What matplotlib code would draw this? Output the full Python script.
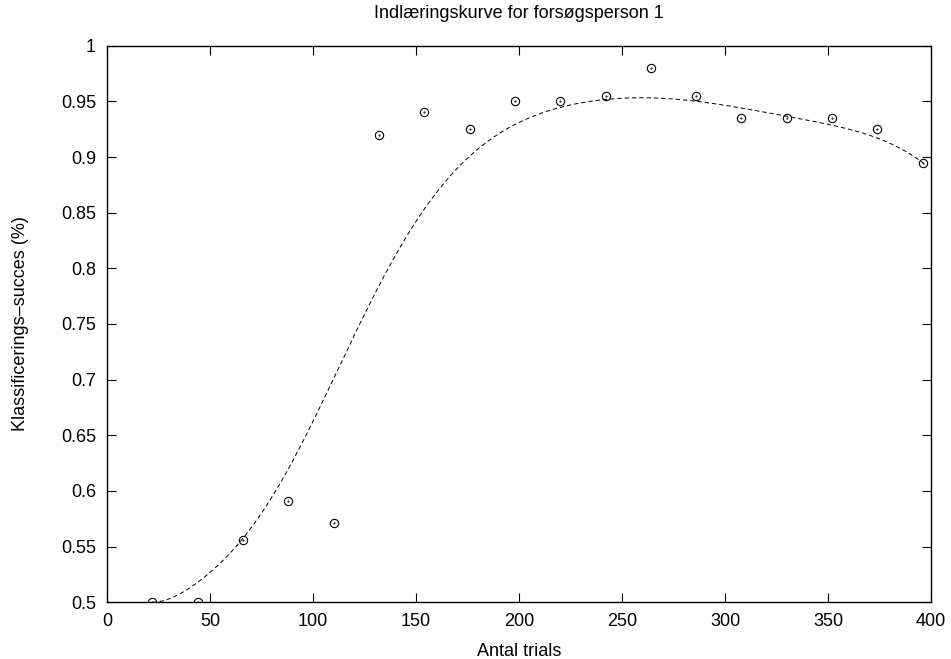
import numpy as np
import matplotlib
matplotlib.use('Agg')
import matplotlib.pyplot as plt
from matplotlib.bezier import BezierSegment

# Antal trials og klassificerings-succes for forsøgsperson 1
trials = [22, 44, 66, 88, 110, 132, 154, 176, 198, 220, 242, 264, 286, 308, 330, 352, 374, 396]
succes = [0.500, 0.500, 0.556, 0.591, 0.571, 0.920, 0.940, 0.925, 0.950, 0.950,
          0.955, 0.980, 0.955, 0.935, 0.935, 0.935, 0.925, 0.895]

xticks = [0, 50, 100, 150, 200, 250, 300, 350, 400]
yticks = [0.5, 0.55, 0.6, 0.65, 0.7, 0.75, 0.8, 0.85, 0.9, 0.95, 1]

plt.rcParams['font.family'] = ['Liberation Sans', 'DejaVu Sans']

fig = plt.figure(figsize=(9.51, 6.59), dpi=100)
ax = fig.add_axes([107 / 951, 1 - 602.3 / 659, (931 - 107) / 951, (602.3 - 45.7) / 659])

# gnuplot "smooth bezier": alle datapunkter som kontrolpunkter
ctrl = np.column_stack([trials, succes])
curve = BezierSegment(ctrl)(np.linspace(0, 1, 400))
ax.plot(curve[:, 0], curve[:, 1], color='black', lw=0.7, dashes=(4.5, 3))

ax.plot(trials, succes, 'o', mfc='none', mec='black', ms=6, mew=0.8)
ax.plot(trials, succes, '.', color='black', ms=1)

ax.set_xlim(0, 400)
ax.set_ylim(0.5, 1)
ax.set_xticks(xticks)
ax.set_yticks(yticks)
ax.set_yticklabels(['%g' % v for v in yticks])
ax.tick_params(direction='in', length=6.5, width=0.8, top=True, right=True,
               labelsize=13, pad=8)
for s in ax.spines.values():
    s.set_linewidth(1)

ax.set_title('Indlæringskurve for forsøgsperson 1', fontsize=13, pad=20)
ax.set_xlabel('Antal trials', fontsize=13, labelpad=9)
ax.set_ylabel('Klassificerings\u2013succes (%)', fontsize=13, labelpad=23)

fig.savefig('out.png', dpi=100)
